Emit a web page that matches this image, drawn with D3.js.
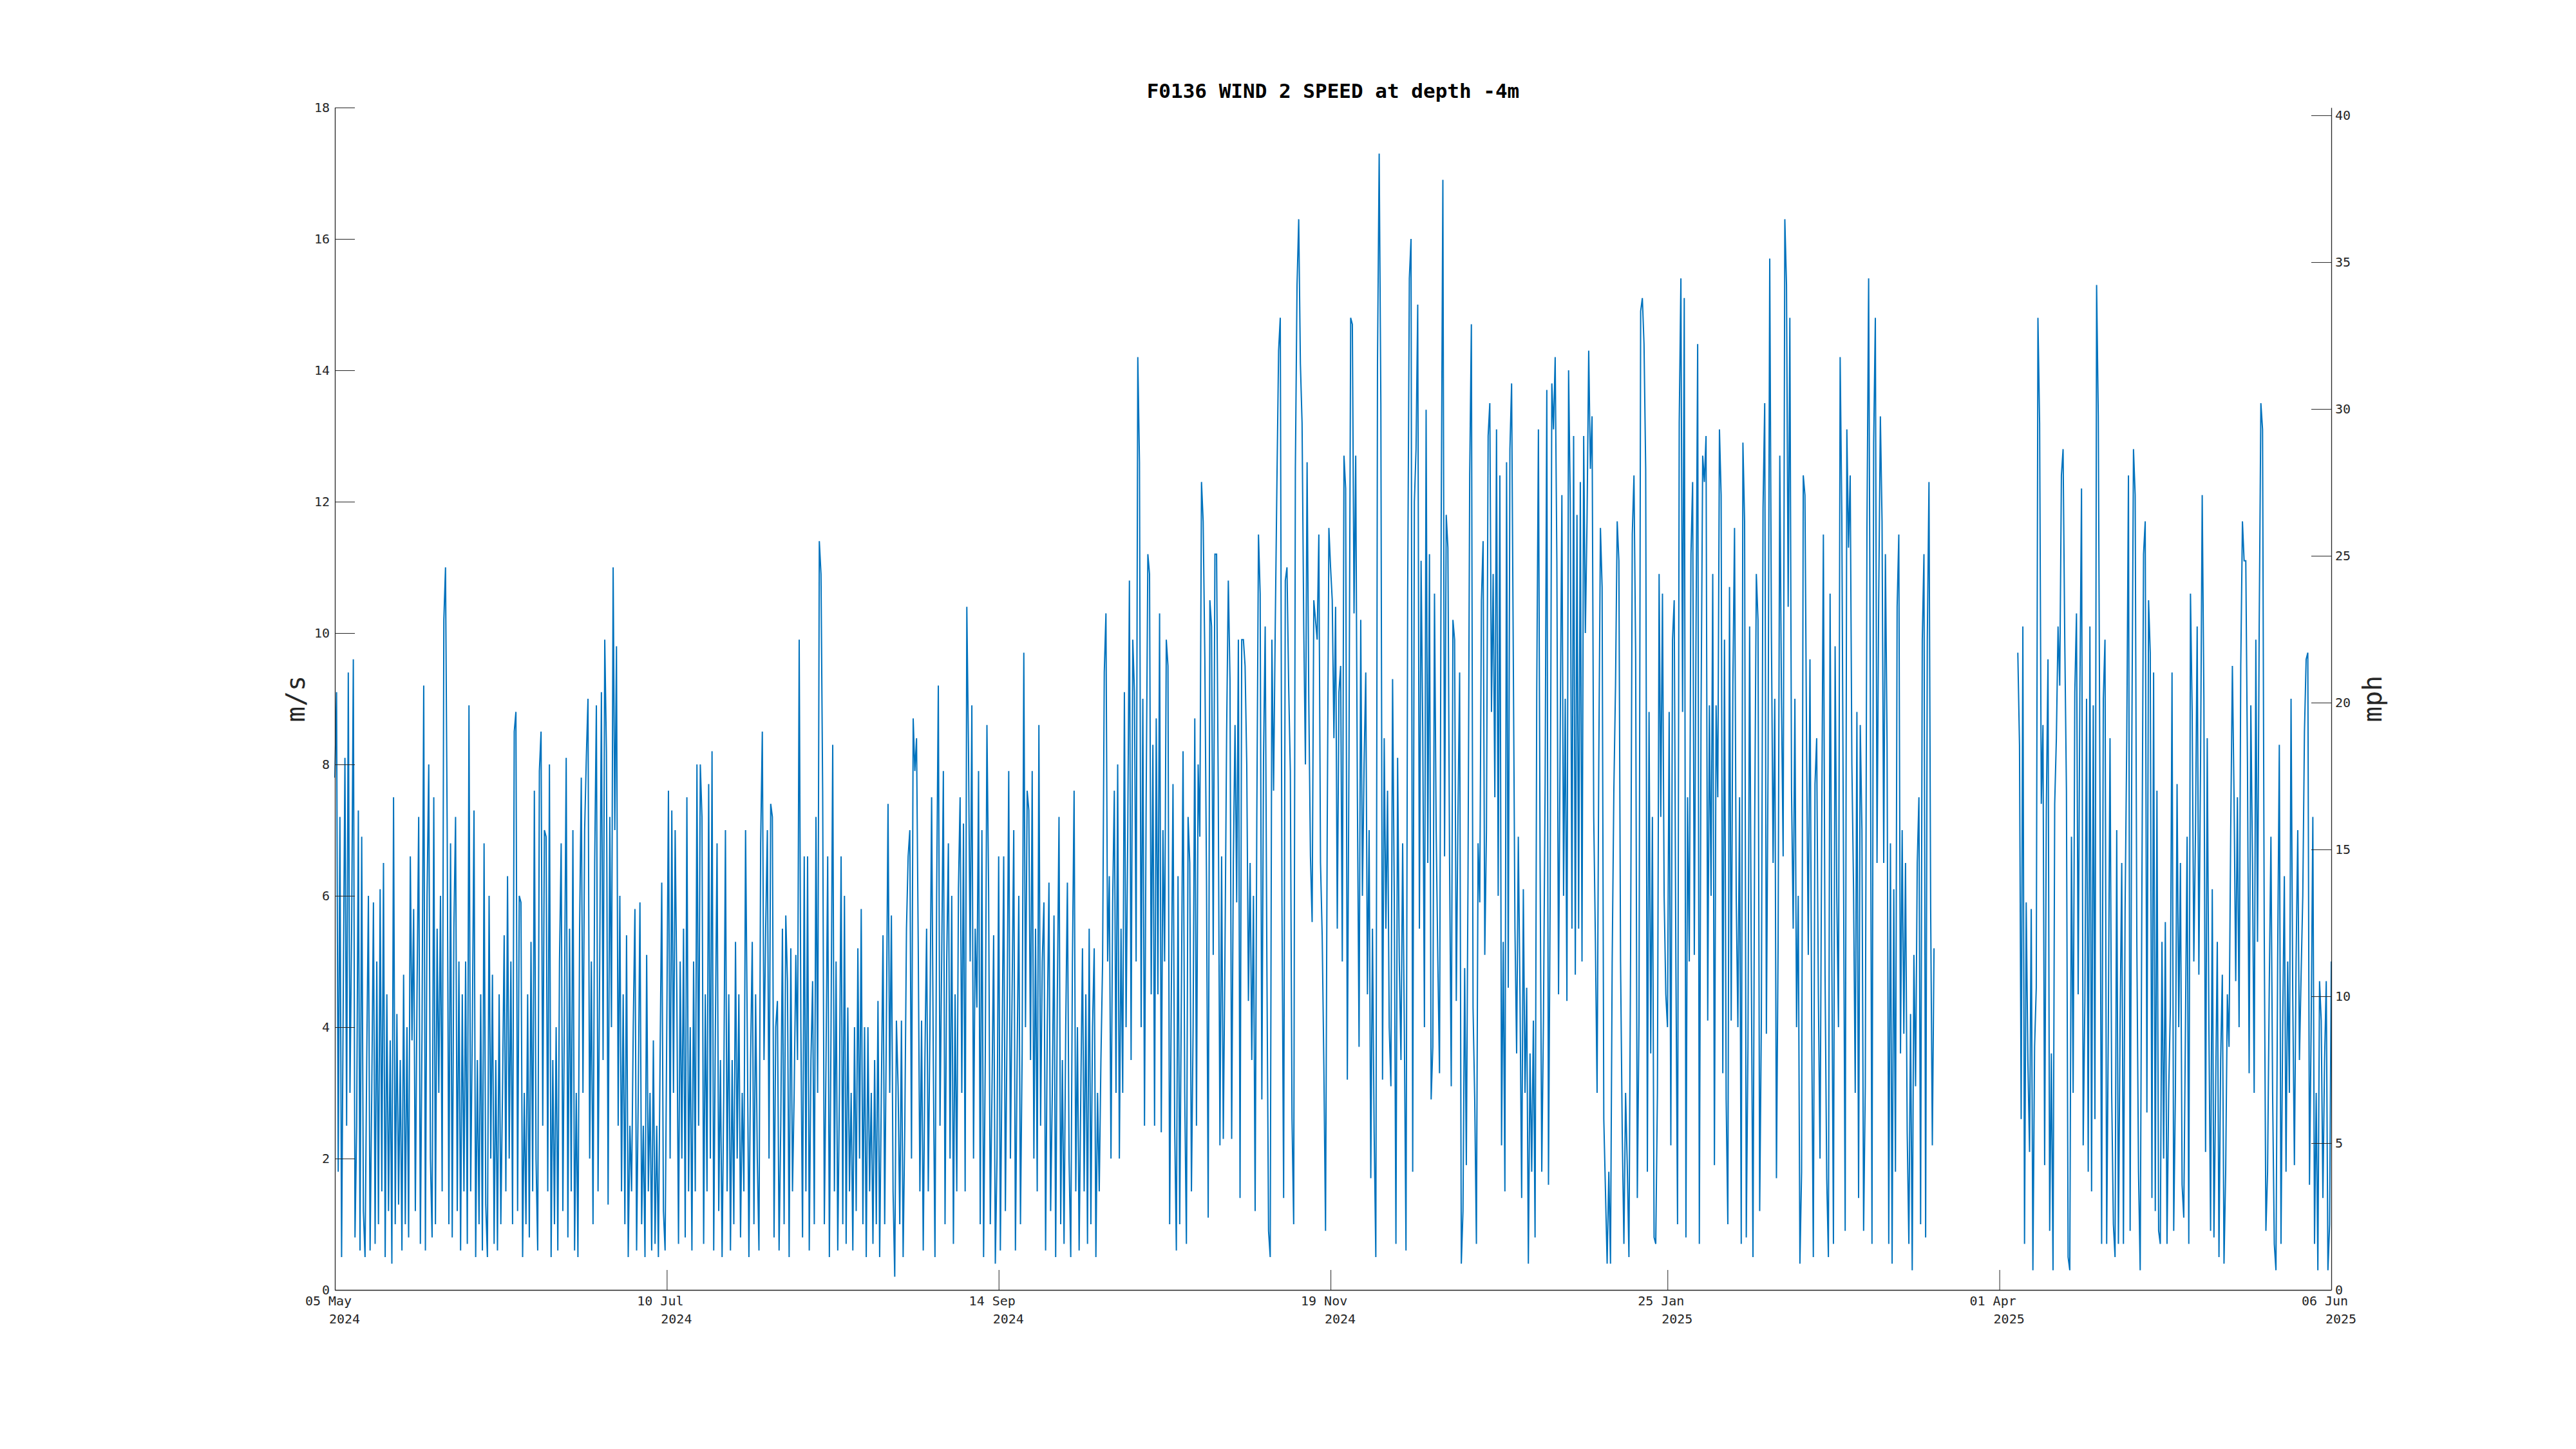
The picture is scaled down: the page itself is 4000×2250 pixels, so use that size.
<!DOCTYPE html>
<html><head><meta charset="utf-8">
<script src="https://cdn.jsdelivr.net/npm/d3@7"></script>
<style>html,body{margin:0;padding:0;background:#fff;} svg{display:block;}</style>
</head><body>
<svg id="chart" width="4000" height="2250"></svg>
<script>
const titleText = "F0136 WIND 2 SPEED at depth -4m";
const leftLabel = "m/s";
const rightLabel = "mph";
const xDomain = ["2024-05-05T00:00", "2025-06-06T00:00"];
const xTickDates = ["2024-05-05T00:00","2024-07-10T00:00","2024-09-14T00:00","2024-11-19T00:00","2025-01-25T00:00","2025-04-01T00:00","2025-06-06T00:00"];
const xTickLine1 = ["05 May","10 Jul","14 Sep","19 Nov","25 Jan","01 Apr","06 Jun"];
const xTickLine2 = ["2024","2024","2024","2024","2025","2025","2025"];
const yTicksMs = [0,2,4,6,8,10,12,14,16,18];
const yTicksMph = [0,5,10,15,20,25,30,35,40];
const msToMph = 2.23694;
const stepHours = 8;

// wind speed (m/s), one value every 8 hours, per block start
const startA = "2024-05-05T00:00";
const speedA = [7.8,9.1,1.8, 7.2,0.5,4.5, 8.1,2.5,9.4, 3.0,5.5,9.6, 0.8,2.5,7.3, 0.6,6.9,1.2, 0.5,3.5,6.0, 0.6,3.0,5.9, 0.7,5.0,1.0, 6.1,1.5,6.5,
0.5,4.5,1.2, 3.8,0.4,7.5, 1.0,4.2,1.3, 3.5,0.6,4.8, 1.0,4.0,0.8, 6.6,3.8,5.8, 1.2,4.5,7.2, 0.7,4.0,9.2, 0.6,6.0,8.0, 2.0,0.8,7.5,
1.0,5.5,3.0, 6.0,1.5,10.2, 11.0,7.0,1.0, 6.8,0.8,5.5, 7.2,1.2,5.0, 0.6,4.5,1.5, 5.0,0.7,8.9, 1.5,4.0,7.3, 0.5,3.5,1.0, 4.5,0.6,6.8,
1.3,0.5,6.0, 2.0,4.8,0.7, 3.5,0.6,4.5, 1.0,3.0,5.4, 1.5,6.3,2.0, 5.0,1.0,8.5, 8.8,1.2,6.0, 5.9,0.5,3.0, 1.0,4.5,0.8, 5.3,1.5,7.6,
2.0,0.6,7.9, 8.5,2.5,7.0];

const startB = "2024-06-16T00:00";
const speedB = [6.9,1.5,8.0, 0.5,3.5,1.0, 4.0,0.6,5.0, 6.8,1.2,4.5, 8.1,0.8,5.5, 1.5,7.0,0.6, 3.0,0.5,5.5, 7.8,3.0,7.0, 8.1,9.0,2.0, 5.0,1.0,6.5,
8.9,1.5,5.0, 9.1,3.5,9.9, 8.2,1.3,7.2, 4.0,11.0,7.0, 9.8,2.5,6.0, 1.5,4.5,1.0, 5.4,0.5,2.5, 1.5,4.0,5.8, 0.6,3.0,5.9, 1.0,2.5,0.5,
5.1,1.5,3.0, 0.6,3.8,0.7, 2.5,0.5,3.5, 6.2,1.2,0.6, 4.0,7.6,2.0, 7.3,3.0,7.0, 4.5,0.7,5.0, 2.0,5.5,0.8, 7.5,1.5,4.0, 0.6,5.0,1.5,
8.0,2.5,8.0, 7.2,0.7,4.5, 1.5,7.7,2.0, 8.2,0.6,4.0, 6.8,1.2,3.5, 0.5,3.0,7.0, 1.5,4.5,0.6, 3.5,1.0,5.3, 2.0,4.5,0.8, 3.0,1.5,7.0,
4.0,0.5,3.5, 5.3,1.0,4.5, 2.0,0.6,6.8, 8.5,3.5,5.5];

const startC = "2024-07-30T00:00";
const speedC = [7.0,2.0,7.4, 7.2,0.8,4.0, 4.4,0.6,2.5, 5.5,1.0,5.7, 4.7,0.5,5.2, 1.5,3.0,5.1, 3.5,9.9,4.0, 0.8,6.6,1.5, 6.6,0.6,3.5, 4.7,1.0,7.2,
3.0,11.4,10.9, 7.6,1.0,3.5, 6.6,0.5,4.0, 8.3,1.5,5.0, 0.6,3.0,6.6, 1.0,6.0,0.7, 4.3,1.5,3.0, 0.6,4.0,1.2, 5.2,2.0,5.8, 1.0,4.0,0.5,
4.0,1.5,3.0, 0.7,3.5,1.0, 4.4,0.5,3.0, 5.4,1.0,4.0, 7.4,3.0,5.7, 1.5,0.2,4.1, 3.1,1.0,4.1, 0.5,2.5,5.5, 6.6,7.0,2.0, 8.7,7.9,8.4,
5.3,1.5,4.1, 0.6,3.5,5.5, 1.5,4.0,7.5, 3.5,0.5,6.0, 9.2,2.5,5.0, 7.9,1.0,5.0, 6.8,2.0,6.0, 0.7,4.5,1.5, 6.1,7.5,3.0, 7.1,1.5,10.4,
8.2,5.0,8.9, 2.0,5.5,4.3, 7.9,1.0,7.0, 0.5,3.5,8.6];

const startD = "2024-09-12T00:00";
const speedD = [6.1,1.0,3.0, 5.4,0.4,2.0, 6.6,0.6,3.5, 6.6,1.2,4.0, 7.9,2.0,4.5, 7.0,0.6,3.5, 6.0,1.0,3.6, 9.7,4.0,7.6, 7.3,3.5,7.9, 2.0,5.5,1.5,
8.6,2.5,5.0, 5.9,0.6,4.0, 6.2,1.2,3.0, 5.7,0.5,4.5, 7.2,1.0,3.5, 0.7,4.0,6.2, 2.0,0.5,5.0, 7.6,1.5,4.0, 0.6,3.0,5.2, 1.5,4.5,0.7,
5.5,1.0,4.0, 5.2,0.5,3.0, 1.5,3.5,5.0, 9.4,10.3,5.0, 6.3,2.0,5.9, 7.6,3.0,8.0, 2.0,5.5,3.0, 9.1,4.0,6.9, 10.8,3.5,9.9, 9.1,5.0,14.2,
12.6,4.0,9.0, 2.5,7.5,11.2, 10.9,4.5,8.3, 2.5,8.7,4.5, 10.3,2.4,7.0, 5.0,9.9,9.5, 1.0,4.5,7.7, 2.5,0.6,6.3, 1.0,4.5,8.2, 3.0,0.7,7.2,
6.5,1.5,4.0, 8.7,2.5,8.0, 6.9,12.3,11.7];

const startE = "2024-10-25T00:00";
const speedE = [9.6,6.2,1.1, 10.5,10.1,5.1, 11.2,11.2,7.6, 2.2,6.6,2.3, 5.1,8.5,10.8, 9.3,2.3,6.5, 8.6,5.9,9.9, 1.4,9.9,9.9, 9.5,8.0,4.4, 6.5,3.5,6.0,
1.2,7.2,11.5, 10.6,2.9,8.1, 10.1,5.0,0.9, 0.5,9.9,7.6, 10.1,12.3,14.3, 14.8,5.9,1.4, 10.8,11.0,9.2, 7.9,2.6,1.0, 12.5,15.3,16.3, 14.1,13.2,10.1,
8.0,12.6,9.0, 6.6,5.6,10.5, 10.2,9.9,11.5, 6.5,5.4,3.4, 0.9,7.0,11.6, 11.0,10.5,8.4, 10.4,5.5,9.1, 9.5,5.0,12.7, 12.2,3.2,8.2, 14.8,14.7,10.3,
12.7,7.5,3.7, 10.2,6.0,8.0, 9.4,4.5,7.0, 1.7,5.5,2.4, 0.5,14.1,17.3, 13.5,3.2,8.4, 5.5,7.6,4.0, 3.1,9.3,6.0, 0.7,8.1,5.0, 3.5,6.8,4.0,
0.6,10.6,15.4, 16.0,1.8,12.0, 12.8,15.0,5.5, 11.1,8.5,4.0];

const startF = "2024-12-08T00:00";
const speedF = [13.4,6.5,11.2, 2.9,3.7,10.6, 7.0,5.0,3.3, 11.7,16.9,6.6, 11.8,11.3,6.5, 3.1,10.2,9.9, 4.4,7.2,9.4, 0.4,1.2,4.9, 1.9,6.3,12.4, 14.7,4.3,2.9,
0.7,6.8,5.9, 10.5,11.4,5.1, 7.0,13.0,13.5, 8.8,10.9,7.5, 13.1,6.0,12.4, 2.2,5.3,1.5, 12.6,4.6,12.8, 13.8,9.7,5.5, 3.6,6.9,4.5, 1.4,6.1,3.0,
4.6,0.4,3.6, 1.8,4.1,0.8, 9.1,13.1,6.5, 1.8,4.1,7.7, 13.7,1.6,6.0, 13.8,13.1,14.2, 11.1,4.5,8.5, 12.1,6.0,9.0, 4.4,14.0,12.0, 5.5,13.0,4.8,
11.8,5.5,12.3, 5.0,13.0,10.0, 11.7,14.3,12.5, 13.3,7.2,5.3, 3.0,8.0,11.6, 10.7,2.6,1.5, 0.4,1.8,0.4, 5.0,7.6,9.2, 11.7,11.1,5.0, 2.4,0.7,3.0,
1.9,0.5,5.2, 11.5,12.4,9.7, 1.4,4.1,14.9];

const startG = "2025-01-20T00:00";
const speedG = [15.1,14.4,12.5, 1.8,8.8,3.6, 7.2,0.8,0.7, 3.0,10.9,7.2, 10.6,6.0,4.5, 4.0,8.8,2.2, 9.9,10.5,5.0, 1.0,13.2,15.4, 8.8,15.1,0.8, 7.5,5.0,11.2,
12.3,5.1,9.9, 14.4,0.7,8.7, 12.7,12.3,13.0, 4.1,8.9,6.0, 10.9,1.9,8.9, 7.5,13.1,12.1, 3.3,9.9,2.9, 1.0,10.7,4.1, 9.2,11.6,6.0, 4.0,7.5,0.7,
12.9,11.7,0.8, 3.7,10.1,5.0, 0.5,7.0,10.9, 10.2,1.2,4.1, 11.9,13.5,3.9, 8.0,15.7,10.0, 6.5,9.0,1.7, 5.3,12.7,9.0, 6.6,16.3,15.3, 10.4,14.8,7.6,
5.5,9.0,4.0, 6.0,0.4,1.8, 12.4,12.1,8.2, 5.1,9.6,4.1, 0.5,7.7,8.4, 4.5,2.0,7.0, 11.5,4.8,1.7, 0.5,10.6,5.3, 0.7,9.8,6.0, 4.0,14.2,11.8,
6.5,0.9,13.1, 11.3,12.4,8.0, 6.1,3.0,8.8, 1.4,8.6,7.0];

const startH = "2025-03-05T00:00";
const speedH = [0.9,3.1,11.6, 15.4,9.2,0.7, 12.9,14.8,6.5, 10.5,13.3,11.7, 6.5,11.2,8.3, 0.7,6.8,0.4, 6.1,1.8,10.4, 11.5,3.6,7.0, 3.9,6.5,2.4, 0.7,4.2,0.3,
5.1,3.1,6.5, 7.5,1.0,9.9, 11.2,0.8,9.9, 12.3,5.8,2.2, 5.2];

// second deployment after the data gap
const startI = "2025-04-04T16:00";
const speedI = [9.7, 8.3,2.6,10.1, 0.7,5.9,3.5, 2.1,5.8,0.3, 3.7,4.6,14.8, 13.2,7.4,8.6, 1.9,7.3,9.6, 0.9,3.6,0.3, 7.4,8.4,10.1, 9.2,12.4,12.8, 9.9,7.6,0.5,
0.3,6.9,3.0, 9.1,10.3,4.5, 9.0,12.2,2.2, 4.4,9.0,1.8, 10.1,1.5,8.9, 2.6,15.3,13.3, 7.6,0.7,9.0, 9.9,0.7,4.0, 8.4,3.0,1.0, 0.5,7.0,0.7,
4.0,6.5,0.7, 5.8,8.4,12.4, 0.9,8.3,12.8, 12.1,5.3,1.8, 0.3,6.0,11.2, 11.7,2.7,10.5, 9.7,1.4,9.4, 1.2,7.6,0.9, 0.7,5.3,2.0, 5.6,0.7,3.0,
4.3,9.4,0.9, 3.0,7.7,4.0, 6.5,1.6,1.1, 4.0,6.9,0.7, 10.6,8.8,5.0, 7.0,10.1,4.8, 8.0,12.1,9.0, 2.1,8.4,4.0, 0.9,6.1,0.8, 3.0,5.3,0.5,
3.5,4.8,0.4, 1.8,4.5,3.7, 7.0,9.5,7.5, 4.7,7.5,4.0, 9.5,11.7,11.1, 11.1,8.0,3.3, 8.9,6.5,3.0, 9.9,5.3,10.1, 13.5,13.1,5.5, 0.9,1.8,4.6,
6.9,3.0,0.7, 0.3,5.0,8.3, 0.7,4.0,6.3, 1.8,5.0,3.0, 9.0,4.5,1.9, 5.0,7.0,3.5, 4.8,6.0,8.5, 9.6,9.7,1.6, 4.0,7.2,0.7, 3.0,0.3,4.7,
4.1,1.4,3.5, 4.7,0.3,1.0, 5.0];

// ---------- build ----------
function toPoints(start, vals) {
  const t0 = new Date(start).getTime();
  return vals.map((v, i) => ({ t: new Date(t0 + i * stepHours * 3600 * 1000), v }));
}
const segment1 = [].concat(
  toPoints(startA, speedA), toPoints(startB, speedB), toPoints(startC, speedC),
  toPoints(startD, speedD), toPoints(startE, speedE), toPoints(startF, speedF),
  toPoints(startG, speedG), toPoints(startH, speedH));
const segment2 = toPoints(startI, speedI);

const svg = d3.select("#chart");
const L = 520, R = 3620, T = 167, B = 2003;
const ink = "#262626";
const mono = "'DejaVu Sans Mono', 'Liberation Mono', monospace";

const x = d3.scaleTime().domain(xDomain.map(s => new Date(s))).range([L, R]);
const y = d3.scaleLinear().domain([0, 18]).range([B, T]);
const yR = d3.scaleLinear().domain([0, 18 * msToMph]).range([B, T]);

const line = d3.line().x(d => x(d.t)).y(d => y(d.v));
[segment1, segment2].forEach(seg => {
  svg.append("path").datum(seg)
    .attr("d", line)
    .attr("fill", "none")
    .attr("stroke", "#0072BD")
    .attr("stroke-width", 2);
});

function styleAxis(g) {
  g.attr("font-family", mono).attr("font-size", 20);
  g.select(".domain").attr("stroke", ink).attr("stroke-width", 1.3);
  g.selectAll(".tick line").attr("stroke", ink).attr("stroke-width", 1);
  g.selectAll(".tick text").attr("fill", ink);
}

svg.append("g").attr("transform", `translate(${L},0)`)
  .call(d3.axisLeft(y).tickValues(yTicksMs).tickSizeInner(-31).tickSizeOuter(0).tickPadding(8).tickFormat(d3.format("d")))
  .call(styleAxis);

svg.append("g").attr("transform", `translate(${R},0)`)
  .call(d3.axisRight(yR).tickValues(yTicksMph).tickSizeInner(-31).tickSizeOuter(0).tickPadding(6).tickFormat(d3.format("d")))
  .call(styleAxis);

const tickDates = xTickDates.map(s => new Date(s));
svg.append("g").attr("transform", `translate(0,${B})`)
  .call(d3.axisBottom(x).tickValues(tickDates).tickSizeInner(-31).tickSizeOuter(0).tickFormat(() => ""))
  .call(styleAxis);

tickDates.forEach((d, i) => {
  svg.append("text").attr("x", x(d) - 10).attr("y", 2027)
    .attr("text-anchor", "middle").attr("font-family", mono).attr("font-size", 20).attr("fill", ink)
    .text(xTickLine1[i]);
  svg.append("text").attr("x", x(d) + 15).attr("y", 2055)
    .attr("text-anchor", "middle").attr("font-family", mono).attr("font-size", 20).attr("fill", ink)
    .text(xTickLine2[i]);
});

svg.append("text").attr("x", (L + R) / 2).attr("y", 152)
  .attr("text-anchor", "middle").attr("font-family", mono).attr("font-size", 31)
  .attr("font-weight", "bold").attr("fill", "#000").text(titleText);

svg.append("text").attr("transform", `translate(459,${(T + B) / 2}) rotate(-90)`)
  .attr("text-anchor", "middle").attr("dominant-baseline", "central")
  .attr("font-family", mono).attr("font-size", 40).attr("fill", ink).text(leftLabel);

svg.append("text").attr("transform", `translate(3684,${(T + B) / 2}) rotate(-90)`)
  .attr("text-anchor", "middle").attr("dominant-baseline", "central")
  .attr("font-family", mono).attr("font-size", 40).attr("fill", ink).text(rightLabel);
</script>
</body></html>
